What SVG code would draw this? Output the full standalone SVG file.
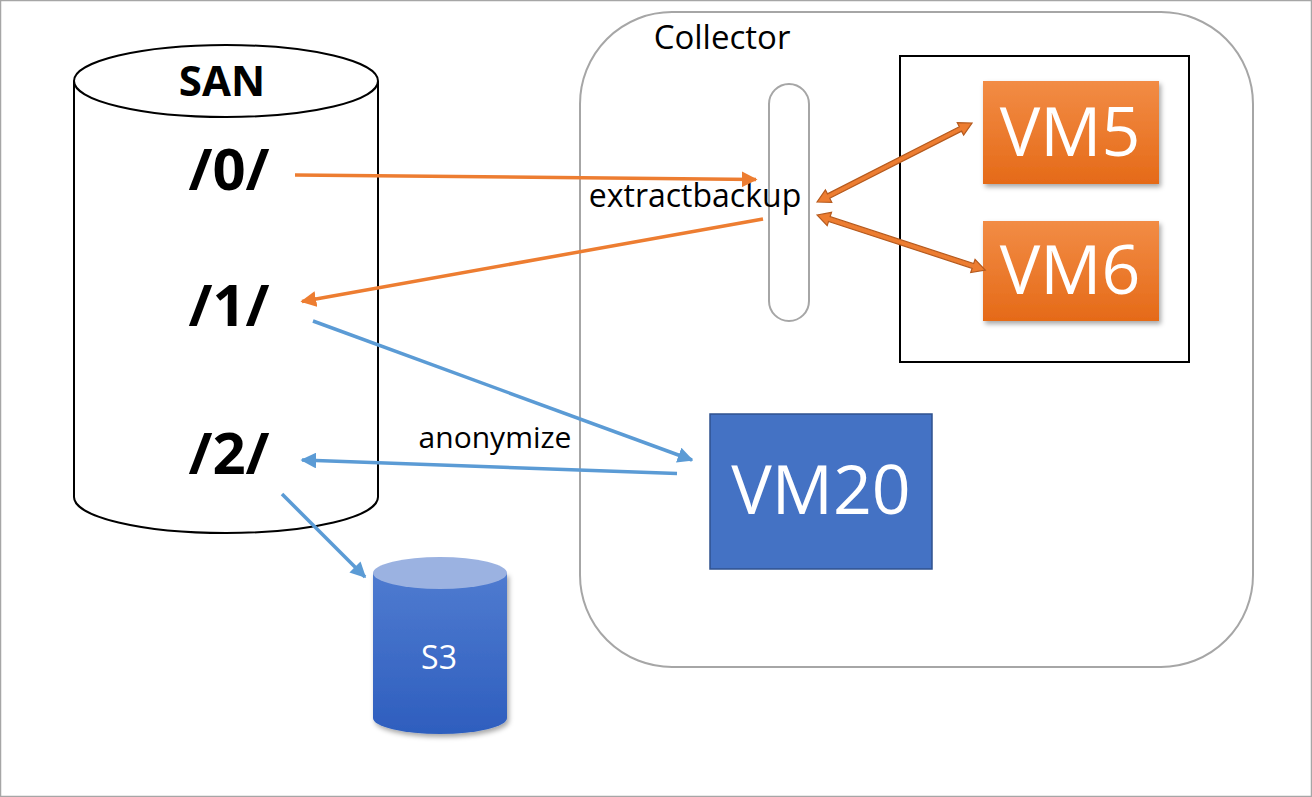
<svg xmlns="http://www.w3.org/2000/svg" width="1312" height="797" viewBox="0 0 1312 797">
<style>
text{font-family:"Open Sans","Liberation Sans",sans-serif}
.lbl{font-size:32px;fill:#000}
.path{font-size:58px;font-weight:bold;fill:#000;text-anchor:middle}
.vm{font-size:68px;fill:#fff;text-anchor:middle}
.o{stroke:#ED7D31;stroke-width:3.5;fill:none}
.b{stroke:#5B9BD5;stroke-width:3.5;fill:none}
.dbl{fill:#ED7D31;stroke:#B55A1E;stroke-width:1.2}
</style>
<defs>
<marker id="ao" viewBox="0 0 10 10" refX="9" refY="5" markerWidth="4.5" markerHeight="4.5" orient="auto" markerUnits="strokeWidth"><path d="M0,0 L10,5 L0,10 z" fill="#ED7D31"/></marker>
<marker id="ab" viewBox="0 0 10 10" refX="9" refY="5" markerWidth="4.5" markerHeight="4.5" orient="auto" markerUnits="strokeWidth"><path d="M0,0 L10,5 L0,10 z" fill="#5B9BD5"/></marker>
<linearGradient id="og" x1="0" y1="0" x2="0" y2="1"><stop offset="0" stop-color="#F28C45"/><stop offset="1" stop-color="#E56A18"/></linearGradient>
<linearGradient id="sg" x1="0" y1="0" x2="0" y2="1"><stop offset="0" stop-color="#4F7BD0"/><stop offset="1" stop-color="#2E5EBE"/></linearGradient>
<filter id="sh" x="-10%" y="-10%" width="130%" height="130%"><feDropShadow dx="2" dy="3" stdDeviation="2.5" flood-color="#000" flood-opacity="0.35"/></filter>
</defs>
<rect x="0" y="0" width="1312" height="797" fill="#fff"/>
<rect x="0.5" y="0.5" width="1311" height="796" fill="none" stroke="#A6A6A6" stroke-width="1.5"/>

<g id="collector">
<rect x="580" y="12" width="673" height="655" rx="92" ry="92" fill="#fff" stroke="#A6A6A6" stroke-width="2"/>
<text x="722" y="49" text-anchor="middle" font-size="33">Collector</text>
</g>

<g id="vmgroup">
<rect x="900" y="56" width="289" height="306" fill="none" stroke="#000" stroke-width="2"/>
</g>

<g id="san">
<path d="M74,81 L74,497 A152,36 0 0 0 378,497 L378,81" fill="#fff" stroke="#000" stroke-width="2"/>
<ellipse cx="226" cy="81" rx="152" ry="36" fill="#fff" stroke="#000" stroke-width="2"/>
<text x="222" y="96" font-size="42" font-weight="bold" text-anchor="middle">SAN</text>
<text class="path" x="229" y="190">/0/</text>
<text class="path" x="229" y="326">/1/</text>
<text class="path" x="229" y="474">/2/</text>
</g>

<g id="extractbackup">
<rect x="769" y="84" width="40" height="237" rx="20" ry="20" fill="#fff" stroke="#A6A6A6" stroke-width="2"/>
<text class="lbl" x="695" y="207" text-anchor="middle">extractbackup</text>
</g>

<g id="vm5">
<rect x="983" y="81" width="176" height="103" fill="url(#og)" filter="url(#sh)"/>
<text class="vm" x="1070" y="156">VM5</text>
</g>
<g id="vm6">
<rect x="983" y="221" width="176" height="100" fill="url(#og)" filter="url(#sh)"/>
<text class="vm" x="1070" y="294">VM6</text>
</g>

<g id="vm20">
<rect x="710" y="414" width="222" height="155" fill="#4472C4" stroke="#2F528F" stroke-width="1.5"/>
<text class="vm" x="821" y="514" font-size="70">VM20</text>
</g>

<g id="s3">
<path d="M373,573 L373,718 A67,16 0 0 0 507,718 L507,573 Z" fill="url(#sg)" filter="url(#sh)"/>
<ellipse cx="440" cy="573" rx="67" ry="16" fill="#9BB2E1"/>
<text x="439" y="669" font-size="32" fill="#fff" text-anchor="middle">S3</text>
</g>

<g id="connectors">
<line class="o" x1="295" y1="175" x2="756" y2="179.5" marker-end="url(#ao)"/>
<line class="o" x1="763" y1="219" x2="302" y2="301.5" marker-end="url(#ao)"/>
<line class="b" x1="313" y1="321" x2="692" y2="460" marker-end="url(#ab)"/>
<line class="b" x1="677" y1="473.5" x2="302" y2="460" marker-end="url(#ab)"/>
<line class="b" x1="282" y1="494" x2="365" y2="577" marker-end="url(#ab)"/>
<path class="dbl" d="M0,0 L13,-7 L13,-2.5 L161,-2.5 L161,-7 L174,0 L161,7 L161,2.5 L13,2.5 L13,7 Z" transform="translate(817,202) rotate(-27)"/>
<path class="dbl" d="M0,0 L13,-7 L13,-2.5 L164,-2.5 L164,-7 L177,0 L164,7 L164,2.5 L13,2.5 L13,7 Z" transform="translate(817,215) rotate(18.1)"/>
<text x="495" y="448" text-anchor="middle" font-size="30">anonymize</text>
</g>
</svg>
